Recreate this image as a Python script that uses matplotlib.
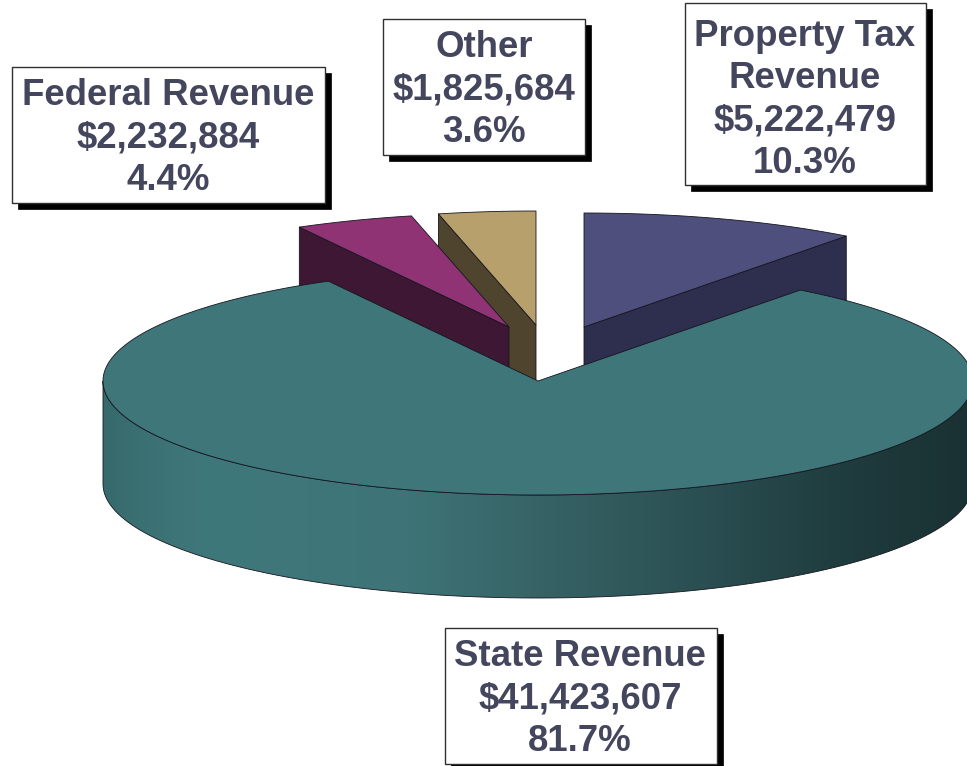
import numpy as np
import matplotlib
matplotlib.use("Agg")
import matplotlib.pyplot as plt
from matplotlib.colors import LinearSegmentedColormap
from matplotlib.patches import Polygon, Rectangle

# ---- data (clockwise from 12 o'clock) ----
categories = ["Property Tax\nRevenue", "State Revenue", "Federal Revenue", "Other"]
revenues = [5222479, 41423607, 2232884, 1825684]
percent_labels = ["10.3%", "81.7%", "4.4%", "3.6%"]

# ---- style / layout ----
top_colors = ["#4F4F7E", "#3E767A", "#8F3375", "#B7A06B"]
wall_colors = ["#2E2E4E", "#3E767A", "#3D1733", "#4F452E"]
# drawing origin of every slice (pixels); exploded slices sit apart from the main pie
origins = [(584, 327), (538, 381), (509, 327), (536, 325)]
RX, RY, DEPTH = 435, 114, 103
START_ANGLE = 90.0
boxes = [(685, 3, 241, 182), (445, 628, 272, 136), (12, 67, 313, 136), (383, 19, 202, 136)]
text_centres = [(805, 100), (580, 699), (168, 138), (484, 90)]
TEXT_COLOR = "#44465E"
EDGE = "#15151f"
BIG = 1
BACK_TO_FRONT = [0, 3, 2]

fig = plt.figure(figsize=(9.67, 7.66), dpi=100, facecolor="white")
ax = fig.add_axes([0, 0, 1, 1])
ax.axis("off")


def rim(origin, a0, a1, drop=0.0, n=120):
    t = np.radians(np.linspace(a0, a1, n))
    return np.column_stack([origin[0] + RX * np.cos(t),
                            origin[1] - RY * np.sin(t) + drop])


def radial_wall(origin, angle):
    tip = rim(origin, angle, angle, n=1)[0]
    return [origin, tip, (tip[0], tip[1] + DEPTH), (origin[0], origin[1] + DEPTH)]


sweeps = 360.0 * np.array(revenues) / np.sum(revenues)
ends = START_ANGLE - np.cumsum(sweeps)
starts = ends + sweeps

# Exploded slices back to front, then the big slice on top of them.
for z, i in enumerate(BACK_TO_FRONT):
    o = origins[i]
    for angle, normal in ((starts[i], starts[i] + 90), (ends[i], ends[i] - 90)):
        if np.sin(np.radians(normal)) < -1e-6:
            ax.add_patch(Polygon(radial_wall(o, angle), closed=True, fc=wall_colors[i],
                                 ec=EDGE, lw=0.6, joinstyle="round", zorder=2 + z))
    top = np.vstack([[o], rim(o, starts[i], ends[i])])
    ax.add_patch(Polygon(top, closed=True, fc=top_colors[i], ec=EDGE, lw=0.6,
                         joinstyle="round", zorder=2.5 + z))

# Big slice: curved wall with a left-to-right shading, then its top face.
o = origins[BIG]
front = rim(o, 180, 360)
wall = np.vstack([front, rim(o, 360, 180, drop=DEPTH)])
shade = LinearSegmentedColormap.from_list(
    "wall",
    [(0.00, "#366A6C"), (0.04, "#3B7072"), (0.12, "#3F787B"), (0.35, "#3E7477"),
     (0.50, "#376366"), (0.68, "#2B5053"), (0.85, "#1F3C3E"), (1.00, "#1A3133")])
im = ax.imshow(np.linspace(0, 1, 512)[None, :], cmap=shade, aspect="auto",
               extent=(o[0] - RX, o[0] + RX, o[1] + RY + DEPTH, o[1] - RY), zorder=6)
wall_patch = Polygon(wall, closed=True, fc="none", ec=EDGE, lw=0.6, zorder=6.1)
ax.add_patch(wall_patch)
im.set_clip_path(wall_patch)

top = np.vstack([[o], rim(o, starts[BIG], ends[BIG], n=400)])
ax.add_patch(Polygon(top, closed=True, fc=top_colors[BIG], ec=EDGE, lw=0.6,
                     joinstyle="round", zorder=7))

# Labels
for i, (x, y, w, h) in enumerate(boxes):
    ax.add_patch(Rectangle((x + 6, y + 6), w, h, fc="black", ec="black", lw=0.5, zorder=8))
    ax.add_patch(Rectangle((x, y), w, h, fc="white", ec="#303030", lw=1.0, zorder=9))
    label = f"{categories[i]}\n${revenues[i]:,}\n{percent_labels[i]}"
    ax.text(*text_centres[i], label, ha="center", va="center", ma="center", zorder=10,
            family="Liberation Sans", fontweight="bold", fontsize=26.4,
            color=TEXT_COLOR, linespacing=1.28)

ax.set_xlim(0, 967)
ax.set_ylim(766, 0)
fig.savefig("out.png", dpi=100, facecolor="white")
